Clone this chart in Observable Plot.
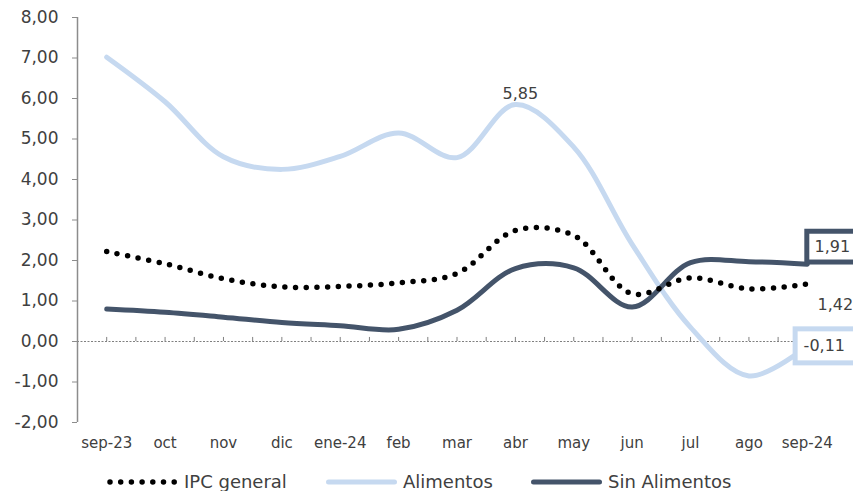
<!DOCTYPE html>
<html>
<head>
<meta charset="utf-8">
<script src="https://cdn.jsdelivr.net/npm/d3@7"></script>
<script src="https://cdn.jsdelivr.net/npm/@observablehq/plot@0.6"></script>
<style>
  html, body { margin: 0; padding: 0; background: white; overflow: hidden; }
  body { width: 853px; height: 491px; font-family: "DejaVu Sans", sans-serif; }
  #legend { position: relative; height: 31px; width: 853px; }
  .item { position: absolute; top: 6px; height: 31px; display: flex; align-items: center; font-size: 18px; color: #404040; }
  .item svg { margin-right: 6px; }
</style>
</head>
<body>
<div id="chart"></div>
<div id="legend"></div>
<script>
const months = ["sep-23","oct","nov","dic","ene-24","feb","mar","abr","may","jun","jul","ago","sep-24"];
const ipc          = [2.22, 1.92, 1.55, 1.35, 1.36, 1.45, 1.68, 2.74, 2.62, 1.18, 1.57, 1.30, 1.42];
const alimentos    = [7.02, 5.92, 4.56, 4.25, 4.57, 5.15, 4.54, 5.85, 4.80, 2.40, 0.35, -0.85, -0.11];
const sinAlimentos = [0.80, 0.72, 0.60, 0.47, 0.39, 0.30, 0.77, 1.80, 1.82, 0.85, 1.95, 1.97, 1.91];
const yTicks = d3.range(-2, 9);
const series = ["IPC general", "Alimentos", "Sin Alimentos"];

const fmt = v => v.toFixed(2).replace(".", ",");
const rows = vals => vals.map((v, i) => ({i, v}));
const halfTicks = d3.range(0, 12.01, 0.5);
const last = vals => [{i: vals.length - 1, v: vals[vals.length - 1]}];
const peakA = [{i: alimentos.indexOf(d3.max(alimentos.slice(3))), v: d3.max(alimentos.slice(3))}];

const cLight = "#C6D9F0", cDark = "#44546A", cText = "#404040", cAxis = "#8c8c8c";

const chart = Plot.plot({
  width: 853,
  height: 460,
  marginLeft: 77,
  marginRight: 17,
  marginTop: 17,
  marginBottom: 38,
  x: {domain: [-0.5, 12.5], label: null},
  y: {domain: [-2, 8], label: null},
  style: {fontFamily: "DejaVu Sans", background: "white", overflow: "hidden"},
  marks: [
    Plot.ruleY([0], {stroke: "#808080", strokeDasharray: "2 1.5", strokeWidth: 1}),
    Plot.ruleX(halfTicks, {x: d => d, y1: 0, y2: 0.1, stroke: "#808080"}),
    Plot.ruleX([-0.5], {y1: -2, y2: 8, stroke: cAxis, strokeWidth: 1.5}),
    Plot.axisY({ticks: yTicks, tickSize: 5, tickPadding: 14, tickFormat: fmt, fontSize: 17, stroke: cAxis, fill: cText}),
    Plot.axisX({ticks: d3.range(months.length), tickFormat: i => months[i], tickSize: 0, tickPadding: 15, fontSize: 15, fill: cText}),
    Plot.line(rows(alimentos), {x: "i", y: "v", stroke: cLight, strokeWidth: 5, curve: "catmull-rom"}),
    Plot.line(rows(sinAlimentos), {x: "i", y: "v", stroke: cDark, strokeWidth: 5, curve: "catmull-rom"}),
    Plot.line(rows(ipc), {x: "i", y: "v", stroke: "black", strokeWidth: 5.5, strokeDasharray: "0 10.7", strokeLinecap: "round", curve: "catmull-rom"}),
    Plot.rect(last(sinAlimentos), {x1: d => d.i, x2: d => d.i + 1, y1: d => d.v + 0.04, y2: d => d.v + 0.8, fill: "white", stroke: cDark, strokeWidth: 5}),
    Plot.text(last(sinAlimentos), {x: "i", y: d => d.v + 0.42, dx: 25, text: d => fmt(d.v), fontSize: 16, fill: cText}),
    Plot.rect(last(alimentos), {x1: d => d.i - 0.2, x2: d => d.i + 1, y1: d => d.v - 0.43, y2: d => d.v + 0.41, fill: "white", stroke: cLight, strokeWidth: 5}),
    Plot.text(last(alimentos), {x: "i", y: "v", dx: 17, text: d => fmt(d.v), fontSize: 16, fill: cText}),
    Plot.text(last(ipc), {x: "i", y: "v", dx: 28, dy: 21, text: d => fmt(d.v), fontSize: 16, fill: cText}),
    Plot.text(peakA, {x: "i", y: "v", dx: 5, dy: -11, text: d => fmt(d.v), fontSize: 16, fill: cText})
  ]
});
document.getElementById("chart").append(chart);

// Legend
const legend = d3.select("#legend");
const lefts = [107, 326, 531];
const styles = [
  {stroke: "black", width: 5.5, dash: "0 10.7"},
  {stroke: cLight, width: 5, dash: null},
  {stroke: cDark, width: 5, dash: null}
];
series.forEach((name, k) => {
  const item = legend.append("div").attr("class", "item").style("left", lefts[k] + "px");
  const s = item.append("svg").attr("width", 71).attr("height", 12);
  const st = styles[k];
  const ln = s.append("line")
    .attr("x1", st.dash ? 3 : 2.5).attr("x2", st.dash ? 71 : 68.5).attr("y1", 6).attr("y2", 6)
    .attr("stroke", st.stroke).attr("stroke-width", st.width).attr("stroke-linecap", "round");
  if (st.dash) ln.attr("stroke-dasharray", st.dash);
  item.append("span").text(name);
});
</script>
</body>
</html>
